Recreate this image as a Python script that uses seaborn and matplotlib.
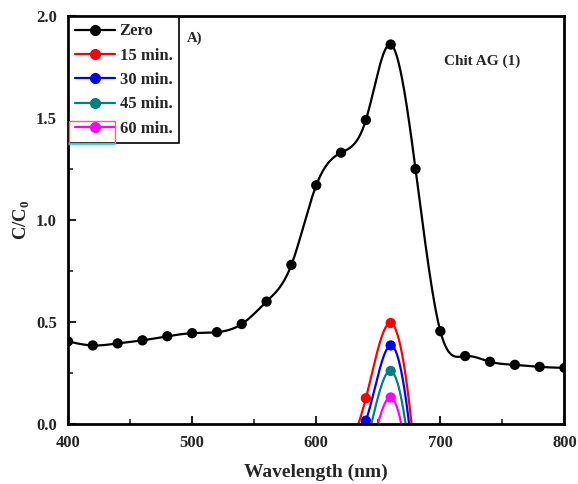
import numpy as np
import pandas as pd
import matplotlib
matplotlib.use("Agg")
import matplotlib.pyplot as plt
from matplotlib.lines import Line2D
from matplotlib.patches import Rectangle
import seaborn as sns

# data (wavelength in nm, C/C0)
wl_zero = [400, 420, 440, 460, 480, 500, 520, 540, 560, 580, 600,
           620, 640, 660, 680, 700, 720, 740, 760, 780, 800]
c_zero = [0.405, 0.385, 0.395, 0.41, 0.43, 0.445, 0.45, 0.49, 0.60, 0.78, 1.17,
          1.33, 1.49, 1.86, 1.25, 0.455, 0.333, 0.305, 0.29, 0.28, 0.275]

# treated samples: the values below zero fall outside the axis and are not shown
wl_t = [620, 640, 660, 680, 700]
c_15 = [-0.22, 0.126, 0.495, -0.20, -2.0]
c_30 = [-0.07, 0.016, 0.385, -0.31, -2.1]
c_45 = [-0.45, -0.11, 0.26, -0.435, -2.2]
c_60 = [-0.60, -0.24, 0.13, -0.565, -2.4]

labels = ["Zero", "15 min.", "30 min.", "45 min.", "60 min."]
colors = ["black", "#ff0000", "#0000ff", "#008080", "#ff00ff"]


def natural_spline(x, y, xs):
    x = np.asarray(x, float)
    y = np.asarray(y, float)
    n = len(x)
    h = np.diff(x)
    A = np.zeros((n, n))
    b = np.zeros(n)
    A[0, 0] = A[-1, -1] = 1
    for i in range(1, n - 1):
        A[i, i - 1] = h[i - 1]
        A[i, i] = 2 * (h[i - 1] + h[i])
        A[i, i + 1] = h[i]
        b[i] = 6 * ((y[i + 1] - y[i]) / h[i] - (y[i] - y[i - 1]) / h[i - 1])
    M = np.linalg.solve(A, b)
    idx = np.clip(np.searchsorted(x, xs) - 1, 0, n - 2)
    x0, x1 = x[idx], x[idx + 1]
    hh = x1 - x0
    a = (x1 - xs) / hh
    c = (xs - x0) / hh
    return (a * y[idx] + c * y[idx + 1]
            + ((a ** 3 - a) * M[idx] + (c ** 3 - c) * M[idx + 1]) * hh ** 2 / 6)


series = [(wl_zero, c_zero), (wl_t, c_15), (wl_t, c_30), (wl_t, c_45), (wl_t, c_60)]

curves, points = [], []
for lab, (xw, yc) in zip(labels, series):
    xs = np.linspace(xw[0], xw[-1], 800)
    curves.append(pd.DataFrame({"wl": xs, "c": natural_spline(xw, yc, xs), "s": lab}))
    points.append(pd.DataFrame({"wl": xw, "c": yc, "s": lab}))
curves = pd.concat(curves)
points = pd.concat(points)

sns.set_style("ticks")
plt.rcParams["font.family"] = ["Liberation Serif", "DejaVu Serif"]
plt.rcParams["font.weight"] = "bold"
plt.rcParams["mathtext.fontset"] = "custom"
plt.rcParams["mathtext.rm"] = "Liberation Serif"
plt.rcParams["mathtext.bf"] = "Liberation Serif:bold"

fig = plt.figure(figsize=(5.78, 4.84), dpi=100)
ax = fig.add_axes([0.1176, 0.124, 0.859, 0.843])

pal = dict(zip(labels, colors))
sns.lineplot(data=curves, x="wl", y="c", hue="s", palette=pal, sort=False,
             estimator=None, linewidth=1.6, legend=False, ax=ax)
sns.scatterplot(data=points, x="wl", y="c", hue="s", palette=pal, s=55,
                edgecolor="none", legend=False, ax=ax)

ax.set_xlim(400, 800)
ax.set_ylim(0, 2.0)
ax.set_xticks([400, 500, 600, 700, 800])
ax.set_xticks([450, 550, 650, 750], minor=True)
ax.set_yticks([0.0, 0.5, 1.0, 1.5, 2.0])
ax.set_yticks([0.25, 0.75, 1.25, 1.75], minor=True)
ax.set_yticklabels(["0.0", "0.5", "1.0", "1.5", "2.0"])
ax.tick_params(which="major", direction="in", length=6, width=1.5, labelsize=12, pad=8)
ax.tick_params(which="minor", direction="in", length=3.5, width=1.2)
for lbl in ax.get_xticklabels() + ax.get_yticklabels():
    lbl.set_fontweight("bold")
for sp in ax.spines.values():
    sp.set_linewidth(2)
    sp.set_color("black")

ax.set_xlabel("Wavelength (nm)", fontsize=14, fontweight="bold", labelpad=9)
ax.set_ylabel(r"C/C$_\mathbf{0}$", fontsize=13.5, fontweight="bold", labelpad=3)

ax.text(0.24, 0.946, "A)", transform=ax.transAxes, fontsize=10.5, fontweight="bold",
        ha="left", va="center")
ax.text(0.834, 0.89, "Chit AG (1)", transform=ax.transAxes, fontsize=11,
        fontweight="bold", ha="center", va="center")

handles = [Line2D([0], [0], color=c, lw=1.6, marker="o", markersize=7) for c in colors]
leg = ax.legend(handles, labels, loc="upper left", bbox_to_anchor=(0.0, 1.0),
                frameon=True, fancybox=False, edgecolor="black", framealpha=1,
                prop={"weight": "bold", "size": 12}, handlelength=2.4,
                handletextpad=0.25, borderpad=0.4, labelspacing=0.5,
                borderaxespad=0.05)
leg.get_frame().set_linewidth(1.2)

# the odd red/cyan box around the last legend handle
ax.add_patch(Rectangle((0.002, 0.689), 0.092, 0.054, transform=ax.transAxes,
                       fill=False, edgecolor="#ff6060", lw=1.0, zorder=6))
ax.add_line(Line2D([0.002, 0.094], [0.686, 0.686], transform=ax.transAxes,
                   color="#00e5e5", lw=1.2, zorder=6))

fig.savefig("out.png", dpi=100)
